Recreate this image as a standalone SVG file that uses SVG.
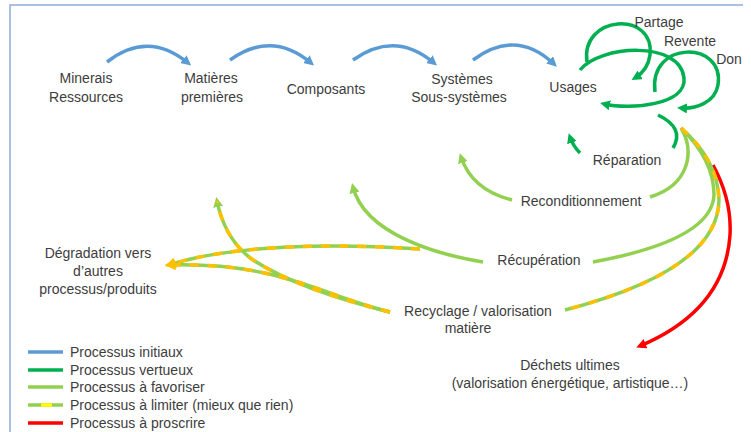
<svg xmlns="http://www.w3.org/2000/svg" width="751" height="432" viewBox="0 0 751 432">
<style>
  text { font-family: "Liberation Sans", Arial, sans-serif; font-size: 14px; fill: #3d3d3d; }
  .c { text-anchor: middle; }
  .ln { fill: none; stroke-width: 3.5; stroke-linecap: butt; }
  .blue { stroke: #5b9bd5; }
  .dg { stroke: #00b050; }
  .lg { stroke: #92d050; }
  .red { stroke: #ff0000; }
  .dash { stroke: #ffc000; stroke-dasharray: 9 9; }
</style>
<defs>
  <marker id="aBlue" viewBox="0 0 10 10" refX="6" refY="5" markerWidth="10" markerHeight="10" markerUnits="userSpaceOnUse" orient="auto"><path d="M0,0 L10,5 L0,10 z" fill="#5b9bd5"/></marker>
  <marker id="aDg" viewBox="0 0 10 10" refX="6" refY="5" markerWidth="10" markerHeight="10" markerUnits="userSpaceOnUse" orient="auto"><path d="M0,0 L10,5 L0,10 z" fill="#00b050"/></marker>
  <marker id="aLg" viewBox="0 0 10 10" refX="6" refY="5" markerWidth="10" markerHeight="10" markerUnits="userSpaceOnUse" orient="auto"><path d="M0,0 L10,5 L0,10 z" fill="#92d050"/></marker>
  <marker id="aOr" viewBox="0 0 10 10" refX="6" refY="5" markerWidth="11" markerHeight="11" markerUnits="userSpaceOnUse" orient="auto"><path d="M0,0 L10,5 L0,10 z" fill="#ffc000"/></marker>
  <marker id="aRed" viewBox="0 0 10 10" refX="6" refY="5" markerWidth="10" markerHeight="10" markerUnits="userSpaceOnUse" orient="auto"><path d="M0,0 L10,5 L0,10 z" fill="#ff0000"/></marker>
</defs>
<rect width="751" height="432" fill="#ffffff"/>
<g id="frame" fill="none" stroke="#8faadc" stroke-width="1.5">
  <path d="M10,432 L10,5 L743,5"/>
</g>
<g id="connectors">
  <path class="ln blue" d="M107,62 Q148,30 188,63" marker-end="url(#aBlue)"/>
  <path class="ln blue" d="M230,60 Q272,30 311,63" marker-end="url(#aBlue)"/>
  <path class="ln blue" d="M353,60 Q395,30 434,63" marker-end="url(#aBlue)"/>
  <path class="ln blue" d="M473,60 Q516,28 554,64" marker-end="url(#aBlue)"/>
  <path class="ln dg" d="M587,62 C580,15 655,10 650,55 Q648,70 635,78" marker-end="url(#aDg)"/>
  <path class="ln dg" d="M580,70 C600,45 680,40 684,78 C687,105 630,110 604,104" marker-end="url(#aDg)"/>
  <path class="ln dg" d="M655,92 C648,40 725,40 718,85 C715,103 695,109 681,108" marker-end="url(#aDg)"/>
  <path class="ln dg" d="M658,115 Q685,128 673,148"/>
  <path class="ln dg" d="M580,153 Q573,146 570,137" marker-end="url(#aDg)"/>
  <path class="ln lg" d="M681,128 C695,150 690,185 650,197"/>
  <path class="ln lg" d="M512,200 Q472,190 461,157" marker-end="url(#aLg)"/>
  <path class="ln lg" d="M681,128 Q714,160 714,195 Q712,240 593,262"/>
  <path class="ln lg" d="M483,262 C440,255 365,235 353,187" marker-end="url(#aLg)"/>
  <path class="ln red" d="M713,165 Q732,200 730,235 Q725,310 640,346" marker-end="url(#aRed)"/>
  <path class="ln lg" d="M681,128 Q718,160 719,200 Q718,270 565,310"/>
  <path class="ln dash" d="M681,128 Q718,160 719,200 Q718,270 565,310"/>
  <path class="ln lg" d="M420,249 C330,243 230,245 169,265" marker-end="url(#aOr)"/>
  <path class="ln dash" d="M420,249 C330,243 230,245 169,265"/>
  <path class="ln lg" d="M390,312 C320,295 280,262 169,265" marker-end="url(#aOr)"/>
  <path class="ln dash" d="M390,312 C320,295 280,262 169,265"/>
  <path class="ln lg" d="M390,312 Q300,290 253,260 Q225,240 217,201" marker-end="url(#aLg)"/>
  <path class="ln dash" d="M390,312 Q300,290 253,260 Q225,240 217,201"/>
</g>
<g id="n-minerais"><text class="c" x="86" y="83">Minerais</text><text class="c" x="86" y="102">Ressources</text></g>
<g id="n-matieres"><text class="c" x="211" y="83">Matières</text><text class="c" x="212" y="102">premières</text></g>
<g id="n-composants"><text class="c" x="326" y="94">Composants</text></g>
<g id="n-systemes"><text class="c" x="462" y="84">Systèmes</text><text class="c" x="459" y="102">Sous-systèmes</text></g>
<g id="n-usages"><text class="c" x="573" y="92">Usages</text></g>
<g id="n-partage"><text class="c" x="659" y="27">Partage</text></g>
<g id="n-revente"><text class="c" x="690" y="46">Revente</text></g>
<g id="n-don"><text class="c" x="729" y="64">Don</text></g>
<g id="n-reparation"><text class="c" x="627" y="165">Réparation</text></g>
<g id="n-recond"><text class="c" x="581" y="206">Reconditionnement</text></g>
<g id="n-recup"><text class="c" x="539" y="265">Récupération</text></g>
<g id="n-recyclage"><text class="c" x="478" y="316">Recyclage / valorisation</text><text class="c" x="468" y="333">matière</text></g>
<g id="n-dechets"><text class="c" x="570" y="370">Déchets ultimes</text><text class="c" x="570" y="388">(valorisation énergétique, artistique…)</text></g>
<g id="n-degradation"><text class="c" x="98" y="258">Dégradation vers</text><text class="c" x="98" y="276">d’autres</text><text class="c" x="98" y="294">processus/produits</text></g>
<g id="legend">
  <line x1="28" y1="352" x2="63" y2="352" class="ln blue"/>
  <line x1="28" y1="370" x2="63" y2="370" class="ln dg"/>
  <line x1="28" y1="387" x2="63" y2="387" class="ln lg"/>
  <line x1="28" y1="405" x2="63" y2="405" class="ln lg"/>
  <line x1="41" y1="405" x2="52" y2="405" class="ln" stroke="#ffff00"/>
  <line x1="28" y1="423" x2="63" y2="423" class="ln red"/>
  <text x="70" y="357">Processus initiaux</text>
  <text x="70" y="375">Processus vertueux</text>
  <text x="70" y="392">Processus à favoriser</text>
  <text x="70" y="410">Processus à limiter (mieux que rien)</text>
  <text x="70" y="428">Processus à proscrire</text>
</g>
</svg>
